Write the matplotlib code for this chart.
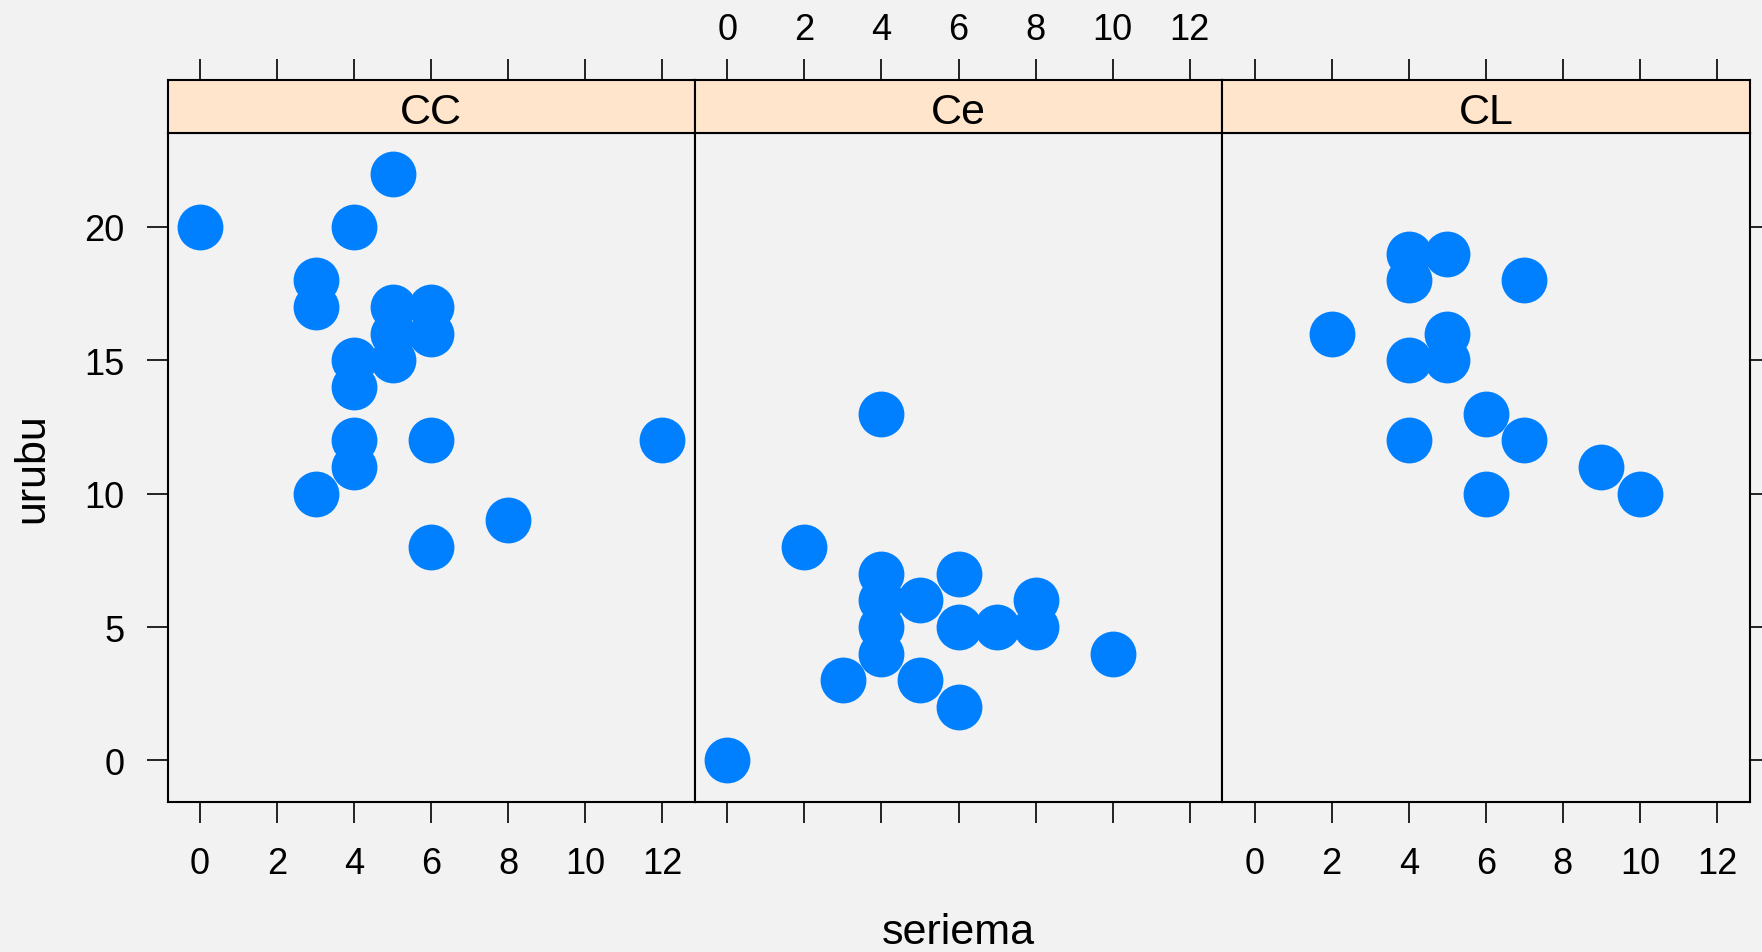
import matplotlib
matplotlib.use("Agg")
import matplotlib.pyplot as plt

plt.rcParams['font.family'] = ['Liberation Sans', 'DejaVu Sans']

# Data: seriema vs urubu counts, split by habitat group
groups = ["CC", "Ce", "CL"]
seriema_cc = [0, 5, 4, 3, 3, 5, 6, 5, 6, 4, 5, 4, 4, 6, 12, 4, 3, 8, 6]
urubu_cc = [20, 22, 20, 18, 17, 17, 17, 16, 16, 15, 15, 14, 12, 12, 12, 11, 10, 9, 8]
seriema_ce = [4, 2, 4, 6, 4, 5, 8, 4, 6, 7, 8, 4, 10, 3, 5, 6, 0]
urubu_ce = [13, 8, 7, 7, 6, 6, 6, 5, 5, 5, 5, 4, 4, 3, 3, 2, 0]
seriema_cl = [4, 5, 4, 7, 2, 5, 4, 5, 6, 4, 7, 9, 6, 10]
urubu_cl = [19, 19, 18, 18, 16, 16, 15, 15, 13, 12, 12, 11, 10, 10]
x_ticks = [0, 2, 4, 6, 8, 10, 12]
y_ticks = [0, 5, 10, 15, 20]
x_label = "seriema"
y_label = "urubu"

series = [(seriema_cc, urubu_cc), (seriema_ce, urubu_ce), (seriema_cl, urubu_cl)]

BG = "#F2F2F2"
STRIP = "#FFE5CC"
POINT = "#0080FF"

W, H = 1762, 953
fig = plt.figure(figsize=(W / 100, H / 100), dpi=100, facecolor=BG)

left_px, right_px = 167.5, 1749.5
panel_top, panel_bot = 133.5, 802.5
strip_top = 81.0
pw = (right_px - left_px) / 3

xlim = (-0.84, 12.84)
ylim = (-1.54, 23.54)

tick_kw = dict(direction="out", length=15, width=1.2, labelsize=26, color="black")

for i, (g, (xs, ys)) in enumerate(zip(groups, series)):
    x0 = left_px + i * pw
    ax = fig.add_axes([x0 / W, 1 - panel_bot / H, pw / W, (panel_bot - panel_top) / H])
    ax.set_facecolor(BG)
    ax.plot(xs, ys, "o", ms=33, color=POINT, mec="none")
    ax.set_xlim(*xlim)
    ax.set_ylim(*ylim)
    ax.set_xticks(x_ticks)
    ax.set_yticks(y_ticks)
    for s in ax.spines.values():
        s.set_linewidth(1.5)
    ax.tick_params(axis="x", pad=17, **tick_kw)
    ax.tick_params(axis="y", pad=16, **tick_kw)
    # bottom axis: labels on outer panels, ticks only in the middle
    ax.tick_params(axis="x", bottom=True, labelbottom=(i != 1), top=False, labeltop=False)
    # vertical axis: labelled on the left of the first panel, ticks on the right of the last
    ax.tick_params(axis="y", left=(i == 0), labelleft=(i == 0),
                   right=(i == 2), labelright=False)

    # strip with the group name; top ticks live on the strip
    sax = fig.add_axes([x0 / W, 1 - panel_top / H, pw / W, (panel_top - strip_top) / H])
    sax.set_facecolor(STRIP)
    sax.set_xlim(*xlim)
    sax.set_ylim(0, 1)
    sax.set_xticks(x_ticks)
    sax.set_yticks([])
    for s in sax.spines.values():
        s.set_linewidth(1.5)
    sax.tick_params(axis="x", pad=9, **tick_kw)
    sax.tick_params(axis="x", bottom=False, labelbottom=False, top=True, labeltop=(i == 1))
    sax.text(0.5, 0.47, g, transform=sax.transAxes, ha="center", va="center_baseline",
             fontsize=31)

fig.text((left_px + right_px) / 2 / W, 1 - 944 / H, x_label, ha="center", va="baseline",
         fontsize=31)
fig.text(32 / W, 1 - (panel_top + panel_bot) / 2 / H, y_label, ha="center", va="center",
         rotation=90, fontsize=31)

fig.savefig("out.png", dpi=100, facecolor=BG)
